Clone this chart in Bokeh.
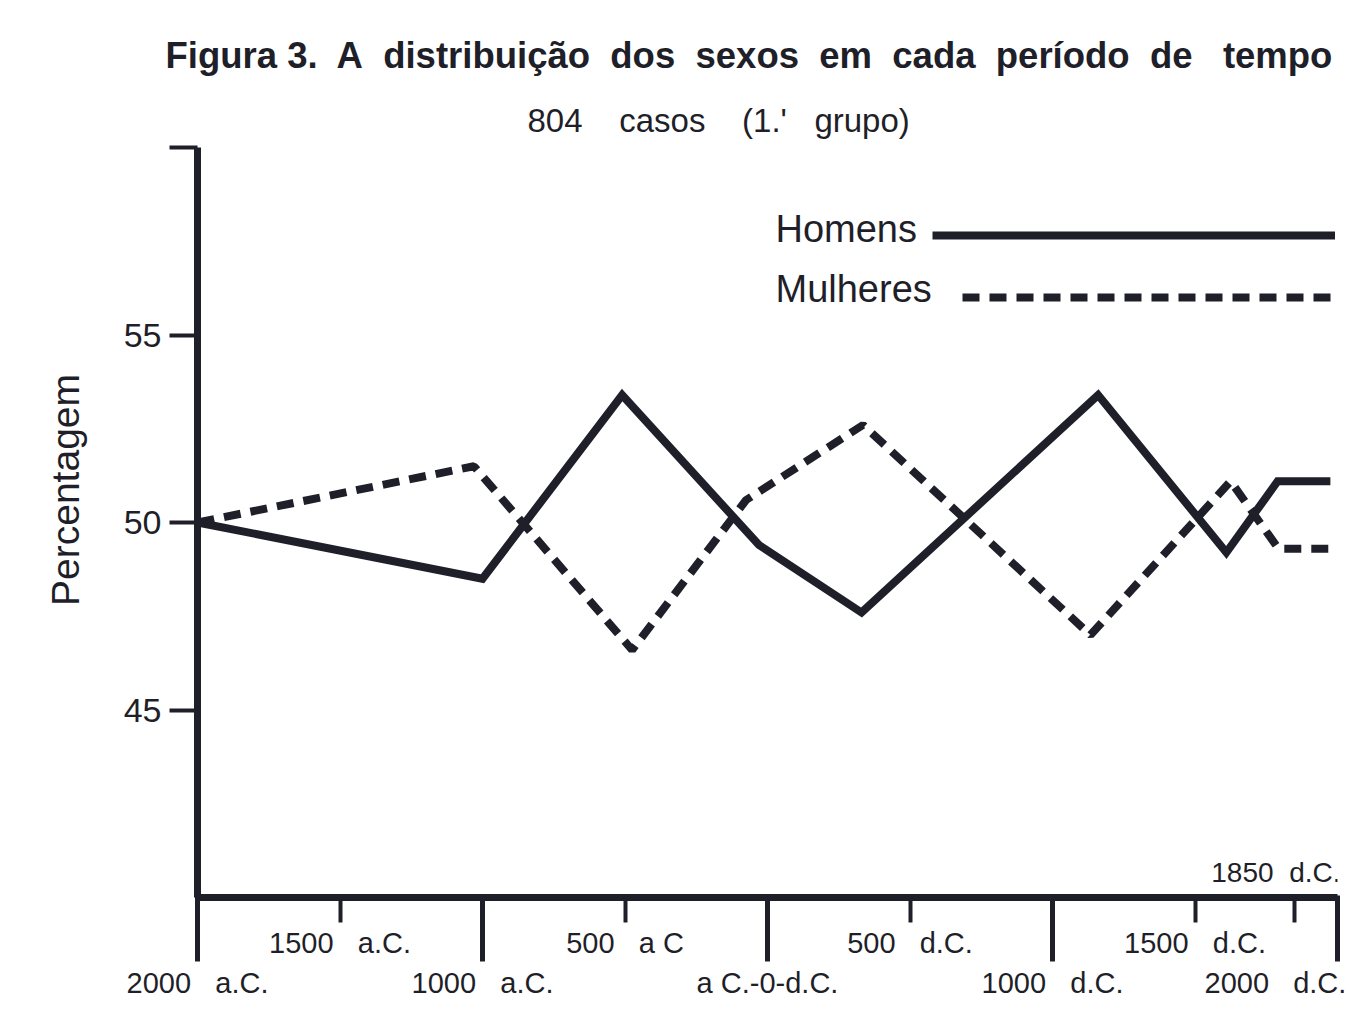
from bokeh.plotting import figure
from bokeh.models import (Range1d, LinearAxis, FixedTicker, Label, Legend, LegendItem, Title)
from bokeh.embed import file_html
from bokeh.resources import INLINE

# ---- data ----
anos_homens = [-2000, -1000, -510, -30, 330, 1160, 1610, 1790, 1975]
homens = [50.0, 48.5, 53.4, 49.4, 47.6, 53.4, 49.2, 51.1, 51.1]
anos_mulheres = [-2000, -1030, -475, -75, 335, 1133, 1625, 1793, 1975]
mulheres = [50.0, 51.5, 46.6, 50.6, 52.6, 47.0, 51.1, 49.3, 49.3]

ticks_longos = [-2000, -1000, 0, 1000, 2000]
ticks_curtos = [-1500, -500, 500, 1500, 1850]
NB = "\u00a0"
rotulos_curtos = {-1500: "1500" + NB * 2 + " a.C.", -500: "500" + NB * 2 + " a C",
                  500: "500" + NB * 2 + " d.C.", 1500: "1500" + NB * 2 + " d.C.", 1850: ""}
rotulos_longos = {-2000: "2000" + NB * 2 + " a.C.", -1000: "1000" + NB * 2 + " a.C.",
                  0: "a C.-0-d.C.", 1000: "1000" + NB * 2 + " d.C.",
                  2000: "2000" + NB * 2 + " d.C." + NB * 2}
y_ticks = [45, 50, 55, 60]

titulo = ("Figura 3." + NB + " A" + NB + " distribuição" + NB + " dos" + NB + " sexos" + NB +
          " em" + NB + " cada" + NB + " período" + NB + " de" + NB * 2 + " tempo")
subtitulo = "804" + NB * 3 + " casos" + NB * 3 + " (1.'" + NB * 2 + " grupo)"
rotulo_y = NB * 6 + "Percentagem"

INK = "#1f1f29"
FONT = "Liberation Sans"

p = figure(width=1362, height=1022, x_range=Range1d(-2000, 2000), y_range=Range1d(40, 60),
           output_backend="svg", toolbar_location=None, x_axis_location=None,
           min_border_left=197, min_border_right=25, min_border_top=147, min_border_bottom=125)
p.outline_line_color = None
p.grid.visible = False
p.background_fill_color = "white"
p.border_fill_color = "white"

# titles
p.add_layout(Title(text=subtitulo, align="left", offset=330, standoff=17,
                   text_font=FONT, text_font_size="33px", text_font_style="normal",
                   text_color=INK), "above")
p.add_layout(Title(text=titulo, align="left", offset=-32, standoff=32,
                   text_font=FONT, text_font_size="36.5px", text_font_style="bold",
                   text_color=INK), "above")

# y axis
ya = p.yaxis[0]
ya.ticker = FixedTicker(ticks=y_ticks)
ya.major_label_overrides = {60: ""}
ya.axis_line_width = 7
ya.axis_line_color = INK
ya.major_tick_line_width = 4
ya.major_tick_line_color = INK
ya.major_tick_out = 28
ya.major_tick_in = 0
ya.minor_tick_line_color = None
ya.major_label_text_font = FONT
ya.major_label_text_font_size = "34px"
ya.major_label_text_color = INK
ya.major_label_standoff = 8
ya.axis_label = rotulo_y
ya.axis_label_text_font = FONT
ya.axis_label_text_font_size = "39px"
ya.axis_label_text_font_style = "normal"
ya.axis_label_text_color = INK
ya.axis_label_standoff = 34

# x axis A: axis line, short ticks, upper row of labels
xa = LinearAxis(ticker=FixedTicker(ticks=ticks_curtos))
xa.major_label_overrides = rotulos_curtos
xa.axis_line_width = 7
xa.axis_line_color = INK
xa.major_tick_line_width = 4
xa.major_tick_line_color = INK
xa.major_tick_out = 25
xa.major_tick_in = 0
xa.minor_tick_line_color = None
xa.major_label_text_font = FONT
xa.major_label_text_font_size = "29px"
xa.major_label_text_color = INK
xa.major_label_standoff = 4
p.add_layout(xa, "below")

# x axis B: long ticks (reaching up to the axis line) and lower row of labels
xb = LinearAxis(ticker=FixedTicker(ticks=ticks_longos))
xb.major_label_overrides = rotulos_longos
xb.axis_line_color = None
xb.major_tick_line_width = 5
xb.major_tick_line_color = INK
xb.minor_tick_line_color = None
xb.major_tick_out = 0
xb.major_tick_in = 66
xb.major_label_text_font = FONT
xb.major_label_text_font_size = "29px"
xb.major_label_text_color = INK
xb.major_label_standoff = 5
p.add_layout(xb, "below")

# series
r_h = p.line(anos_homens, homens, line_width=8, line_color=INK, line_join="miter")
r_m = p.line(anos_mulheres, mulheres, line_width=8, line_color=INK, line_dash="17 10")

# legend (lines only; texts as labels on the left)
for item_r, loc, gw in [(r_h, (735, 652), 403), (r_m, (765, 590), 373)]:
    lg = Legend(items=[LegendItem(label=" ", renderers=[item_r])], location=loc,
                glyph_width=gw, glyph_height=20, label_width=0, label_height=20,
                label_standoff=0, label_text_font_size="1px", padding=0, margin=0,
                border_line_color=None, background_fill_alpha=0)
    p.add_layout(lg)

def lab(text, x, y, size, align="left", baseline="alphabetic"):
    p.add_layout(Label(x=x, y=y, x_units="screen", y_units="screen", text=text,
                       text_font=FONT, text_font_size=size, text_color=INK,
                       text_align=align, text_baseline=baseline))

lab("Homens", 578, 669, "38px")
lab("Mulheres", 578, 609, "38px")
lab("1850" + NB + " d.C.", 1143, 25, "28px", align="right")

open("out.html", "w").write(file_html(p, INLINE))
